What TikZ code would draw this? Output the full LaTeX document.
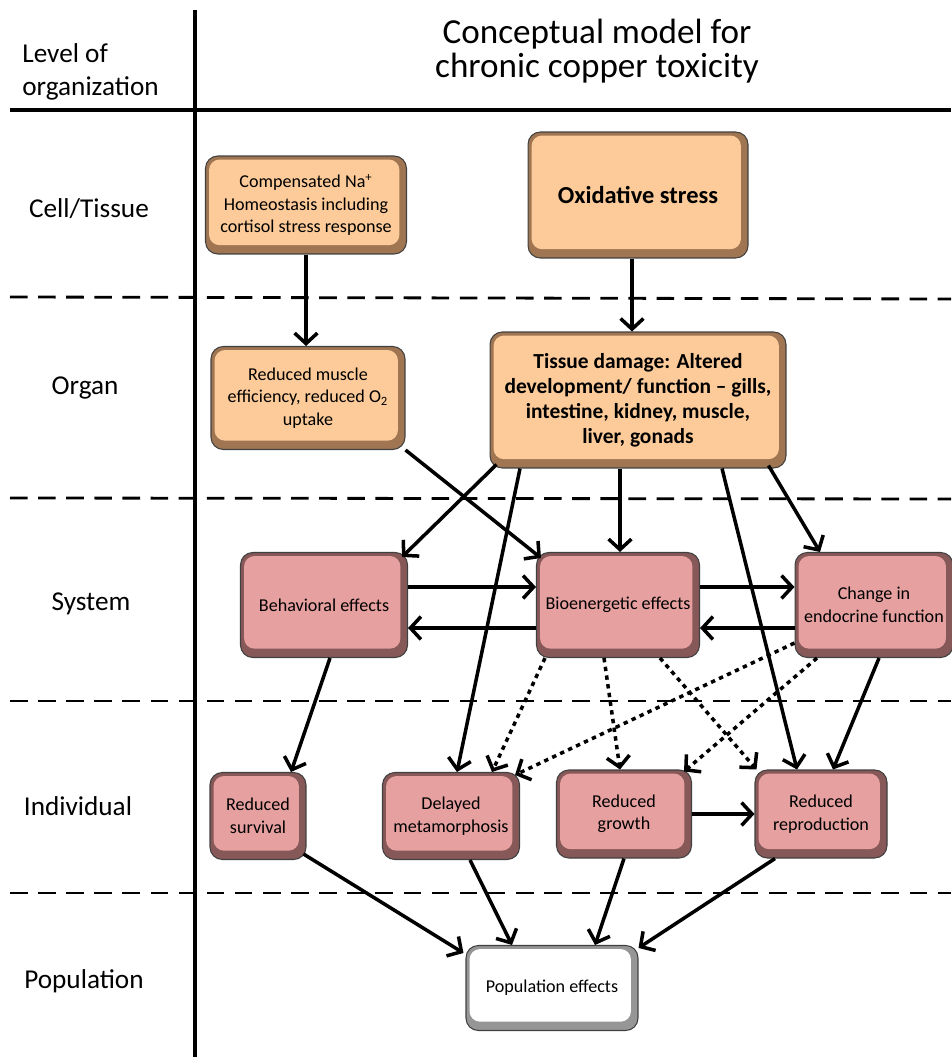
\documentclass[tikz,border=0pt]{standalone}
\usepackage{fontspec}
\setmainfont{Carlito}
\usepackage{tikz}
\usetikzlibrary{arrows.meta}
\definecolor{faceorange}{RGB}{252,203,153}
\definecolor{edgeorange}{RGB}{160,118,82}
\definecolor{facepink}{RGB}{230,160,160}
\definecolor{edgepink}{RGB}{135,88,88}
\definecolor{edgegray}{RGB}{150,150,150}

\begin{document}
\begin{tikzpicture}[x=0.02cm,y=-0.02cm]
			\tikzstyle{every node}+=[inner sep=0pt,font=\fontsize{10.3}{12.8}\selectfont]
			\tikzstyle{box}=[draw=black!75,line width=0.6pt,rounded corners=7pt,align=center]
			\tikzstyle{orangebox}=[box,fill=edgeorange,path picture={\fill[faceorange,rounded corners=6pt] ([shift={(2pt,-2pt)}]path picture bounding box.north west) rectangle ([shift={(-4pt,5pt)}]path picture bounding box.south east);}]
			\tikzstyle{pinkbox}=[box,fill=edgepink,path picture={\fill[facepink,rounded corners=6pt] ([shift={(2pt,-2pt)}]path picture bounding box.north west) rectangle ([shift={(-4pt,5pt)}]path picture bounding box.south east);}]
			\tikzstyle{whitebox}=[box,fill=edgegray,path picture={\fill[white,rounded corners=6pt] ([shift={(2pt,-2pt)}]path picture bounding box.north west) rectangle ([shift={(-4pt,5pt)}]path picture bounding box.south east);}]
			\tikzstyle{level}=[font=\fontsize{15.5}{19}\selectfont]
			\tikzstyle{link}=[line width=2pt,-{Straight Barb[length=6pt,width=13pt]}]
			\tikzstyle{dotlink}=[link,dash pattern=on 2.5pt off 2.5pt]
			\tikzstyle{levelsep}=[line width=1.6pt,dash pattern=on 10pt off 6pt]
			\useasboundingbox (0,0) rectangle (951,1057);
			\draw [line width=2.5pt] (195,10) -- (195,1057);
			\draw [line width=2.5pt] (10,110) -- (951,110);
			\draw [levelsep] (10,297) -- (951,299);
			\draw [levelsep] (10,498) -- (951,499);
			\draw [levelsep] (10,701) -- (951,701);
			\draw [levelsep] (10,893) -- (951,893);
			\node (title) at (597,51) [align=center,font=\fontsize{20}{19.5}\selectfont] {Conceptual model for\\chronic copper toxicity};
			\node (levhead) at (22,72) [level,anchor=west,align=left] {Level of\\organization};
			\node (levcell) at (89,209) [level] {Cell/Tissue};
			\node (levorgan) at (85,388) [level] {Organ};
			\node (levsys) at (91,604) [level] {System};
			\node (levind) at (78,806) [level] {Individual};
			\node (levpop) at (84,981) [level] {Population};
			\node (comp) at (306,205) [orangebox,minimum width=4.02cm,minimum height=1.96cm] {Compensated Na\textsuperscript{+}\\Homeostasis including\\cortisol stress response};
			\node (oxid) at (638,195) [orangebox,minimum width=4.4cm,minimum height=2.52cm,font=\fontsize{13.9}{16}\selectfont\bfseries] {Oxidative stress};
			\node (muscle) at (308,398) [orangebox,minimum width=3.88cm,minimum height=2.06cm] {Reduced muscle\\efficiency, reduced O\textsubscript{2}\\uptake};
			\node (tissue) at (638,400) [orangebox,minimum width=5.92cm,minimum height=2.72cm,font=\fontsize{12.2}{14.2}\selectfont\bfseries] {Tissue damage: Altered\\development/ function -- gills,\\intestine, kidney, muscle,\\liver, gonads};
			\node (behav) at (324,605) [pinkbox,minimum width=3.34cm,minimum height=2.1cm] {Behavioral effects};
			\node (bioen) at (618,605) [pinkbox,minimum width=3.26cm,minimum height=2.1cm] {Bioenergetic effects};
			\node (endo) at (874,605) [pinkbox,minimum width=3.16cm,minimum height=2.1cm] {Change in\\endocrine function};
			\node (surv) at (258,816) [pinkbox,minimum width=1.92cm,minimum height=1.74cm] {Reduced\\survival};
			\node (delay) at (451,816) [pinkbox,minimum width=2.74cm,minimum height=1.74cm] {Delayed\\metamorphosis};
			\node (growth) at (624,814) [pinkbox,minimum width=2.7cm,minimum height=1.76cm] {Reduced\\growth};
			\node (repro) at (821,814) [pinkbox,minimum width=2.64cm,minimum height=1.76cm] {Reduced\\reproduction};
			\node (pop) at (552,988) [whitebox,minimum width=3.44cm,minimum height=1.7cm] {Population effects};
			\draw [link] (comp.south) -- (comp.south |- muscle.north);
			\draw [link] ([shift={(-6,0)}]oxid.south) -- ([shift={(-6,0)}]tissue.north);
			\draw [link] (muscle.south east) -- ([shift={(5,6)}]bioen.north west);
			\draw [link] ([shift={(7,-4)}]tissue.south west) -- ([shift={(-6,5)}]behav.north east);
			\draw [link] ([shift={(-118,0)}]tissue.south) -- ([shift={(6,0)}]delay.north);
			\draw [link] ([shift={(-18,0)}]tissue.south) -- ([shift={(2,0)}]bioen.north);
			\draw [link] ([shift={(84,0)}]tissue.south) -- ([shift={(-24,0)}]repro.north);
			\draw [link] ([shift={(-18,-3)}]tissue.south east) -- ([shift={(-54,0)}]endo.north);
			\draw [link] ([shift={(0,-18)}]behav.east) -- ([shift={(0,-18)}]bioen.west);
			\draw [link] ([shift={(0,23)}]bioen.west) -- ([shift={(0,23)}]behav.east);
			\draw [link] ([shift={(0,-18)}]bioen.east) -- ([shift={(0,-18)}]endo.west);
			\draw [link] ([shift={(0,23)}]endo.west) -- ([shift={(0,23)}]bioen.east);
			\draw [link] ([shift={(6,0)}]behav.south) -- ([shift={(33,0)}]surv.north);
			\draw [link] ([shift={(5,0)}]endo.south) -- ([shift={(12,0)}]repro.north);
			\draw [dotlink] ([shift={(-73,0)}]bioen.south) -- ([shift={(41,0)}]delay.north);
			\draw [dotlink] ([shift={(-14,0)}]bioen.south) -- ([shift={(-4,0)}]growth.north);
			\draw [dotlink] ([shift={(42,0)}]bioen.south) -- ([shift={(2,0)}]repro.north west);
			\draw [dotlink] ([shift={(0,38)}]endo.west) -- ([shift={(-5,3)}]delay.north east);
			\draw [dotlink] ([shift={(-57,0)}]endo.south) -- ([shift={(-8,2)}]growth.north east);
			\draw [link] (growth.east) -- (repro.west);
			\draw [link] ([shift={(-3,-6)}]surv.south east) -- ([shift={(-2,8)}]pop.north west);
			\draw [link] ([shift={(19,0)}]delay.south) -- ([shift={(-40,0)}]pop.north);
			\draw [link] (growth.south) -- ([shift={(43,0)}]pop.north);
			\draw [link] ([shift={(-46,0)}]repro.south) -- ([shift={(0,3)}]pop.north east);
			\end{tikzpicture}
\end{document}
